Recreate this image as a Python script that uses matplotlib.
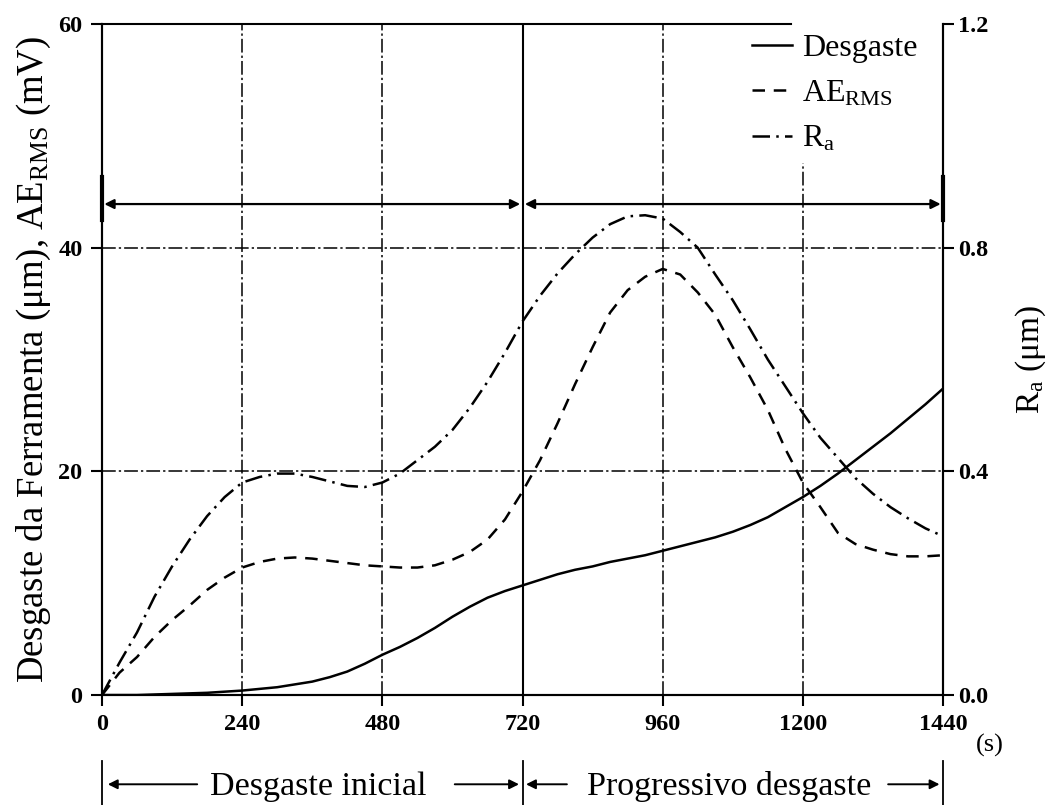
import matplotlib
matplotlib.use("Agg")
import matplotlib.pyplot as plt
import matplotlib.transforms as mtransforms

plt.rcParams["font.family"] = ["Liberation Serif", "DejaVu Serif"]
plt.rcParams["mathtext.fontset"] = "custom"
plt.rcParams["mathtext.rm"] = "Liberation Serif"
plt.rcParams["mathtext.it"] = "Liberation Serif:italic"

# tempo de usinagem (s), a cada 30 s
tempo = list(range(0, 1441, 30))

# desgaste da ferramenta (um)
desgaste = [0.0, 0.0, 0.0, 0.05, 0.1, 0.15, 0.2, 0.3, 0.4, 0.55,
            0.7, 0.95, 1.2, 1.6, 2.1, 2.8, 3.6, 4.3, 5.1, 6.0,
            7.0, 7.9, 8.7, 9.3, 9.8, 10.3, 10.8, 11.2, 11.5, 11.9,
            12.2, 12.5, 12.9, 13.3, 13.7, 14.1, 14.6, 15.2, 15.9, 16.8,
            17.7, 18.7, 19.8, 21.0, 22.2, 23.4, 24.7, 26.0, 27.4]

# AE RMS (mV)
ae_rms = [0.0, 2.0, 3.4, 5.2, 6.7, 8.0, 9.4, 10.5, 11.4, 11.9,
          12.2, 12.3, 12.2, 12.0, 11.8, 11.6, 11.5, 11.4, 11.4, 11.6,
          12.1, 12.8, 13.9, 15.7, 18.2, 21.0, 24.3, 27.8, 31.1, 34.2,
          36.2, 37.4, 38.1, 37.6, 36.0, 34.0, 31.1, 28.4, 25.5, 22.0,
          19.0, 16.8, 14.5, 13.5, 13.0, 12.6, 12.4, 12.4, 12.5]

# rugosidade Ra (um)
ra = [0.000, 0.058, 0.112, 0.176, 0.230, 0.278, 0.320, 0.354, 0.380, 0.390,
      0.396, 0.396, 0.390, 0.382, 0.374, 0.372, 0.380, 0.396, 0.420, 0.444,
      0.474, 0.514, 0.560, 0.612, 0.668, 0.714, 0.754, 0.788, 0.818, 0.842,
      0.856, 0.858, 0.852, 0.828, 0.800, 0.752, 0.706, 0.654, 0.600, 0.552,
      0.504, 0.460, 0.424, 0.388, 0.360, 0.336, 0.316, 0.298, 0.284]

xticks = [0, 240, 480, 720, 960, 1200, 1440]
yticks_left = [0, 20, 40, 60]
yticks_right = [0.0, 0.4, 0.8, 1.2]

fig = plt.figure(figsize=(10.59, 8.05), dpi=100)
ax = fig.add_axes([0.0963, 0.1366, 0.7942, 0.8336])
ax2 = ax.twinx()

ax.set_xlim(0, 1440)
ax.set_ylim(0, 60)
ax2.set_ylim(0, 1.2)

grid_style = dict(color="black", lw=1.1, ls=(0, (9, 2, 1.5, 2)), zorder=1)
for xv in [240, 480, 960, 1200]:
    ax.axvline(xv, **grid_style)
for yv in [20, 40]:
    ax.axhline(yv, **grid_style)
ax.axvline(720, color="black", lw=1.5, zorder=1)

l1, = ax.plot(tempo, desgaste, color="black", lw=1.8, ls="-", label="Desgaste")
l2, = ax.plot(tempo, ae_rms, color="black", lw=1.8, ls=(0, (5, 3.5)), label=r"AE$_{\mathrm{RMS}}$")
l3, = ax2.plot(tempo, ra, color="black", lw=1.8, ls=(0, (7, 2.5, 1, 2.5)), label=r"R$_{\mathrm{a}}$")

# moldura
for a in (ax, ax2):
    a.spines["top"].set_visible(False)
    for s in ("left", "right", "bottom"):
        a.spines[s].set_linewidth(1.5)
ax2.plot([0, 1180], [1.2, 1.2], color="black", lw=1.5, clip_on=False, zorder=6)

tick_font = dict(fontsize=17.5, fontweight="bold")
ax.set_xticks(xticks)
ax.set_xticklabels([str(v) for v in xticks], **tick_font)
ax.set_yticks(yticks_left)
ax.set_yticklabels([str(v) for v in yticks_left], **tick_font)
ax2.set_yticks(yticks_right)
ax2.set_yticklabels([f"{v:.1f}" for v in yticks_right], **tick_font)
ax.tick_params(direction="out", length=8, width=1.5, pad=6)
ax2.tick_params(direction="out", length=8, width=1.5, pad=3)

ax.set_ylabel(r"Desgaste da Ferramenta ($\mathrm{\mu}$m), AE$_{\mathrm{RMS}}$ (mV)", fontsize=26.5, labelpad=4)
ax2.set_ylabel(r"R$_{\mathrm{a}}$ ($\mathrm{\mu}$m)", fontsize=24, labelpad=18)

trans = mtransforms.blended_transform_factory(ax.transData, ax.transAxes)
ax.text(1520, -0.075, "(s)", fontsize=19, ha="center", va="center", transform=trans)

# setas das fases (topo)
arrow_kw = dict(arrowstyle="<|-|>", color="black", lw=1.6, mutation_scale=14, shrinkA=0, shrinkB=0)
ax.annotate("", xy=(4, 43.9), xytext=(716, 43.9), arrowprops=arrow_kw)
ax.annotate("", xy=(724, 43.9), xytext=(1436, 43.9), arrowprops=arrow_kw)
ax.plot([0, 0], [42.5, 46.3], color="black", lw=3, clip_on=False)
ax.plot([1440, 1440], [42.5, 46.3], color="black", lw=3, clip_on=False)

# fases (abaixo do eixo)
for xv in [0, 720, 1440]:
    ax.plot([xv, xv], [-0.098, -0.17], color="black", lw=1.3, transform=trans, clip_on=False)
one_kw = dict(arrowstyle="-|>", color="black", lw=1.4, mutation_scale=14, shrinkA=0, shrinkB=0)
yb = -0.133
for x0, x1 in [(163, 10), (604, 714), (796, 726), (1346, 1434)]:
    ax.annotate("", xy=(x1, yb), xytext=(x0, yb), xycoords=trans, textcoords=trans,
                arrowprops=one_kw, annotation_clip=False)
ax.text(370, -0.149, "Desgaste inicial", fontsize=24.5, ha="center", va="baseline", transform=trans)
ax.text(1074, -0.149, "Progressivo desgaste", fontsize=24.5, ha="center", va="baseline", transform=trans)

leg = ax2.legend(handles=[l1, l2, l3], loc="upper left", bbox_to_anchor=(0.762, 1.0),
                 frameon=True, fancybox=False, facecolor="white", edgecolor="none", framealpha=1,
                 fontsize=23, handlelength=1.25, handletextpad=0.3,
                 labelspacing=0.5, borderaxespad=0, borderpad=0.3)

fig.savefig("out.png", dpi=100)
